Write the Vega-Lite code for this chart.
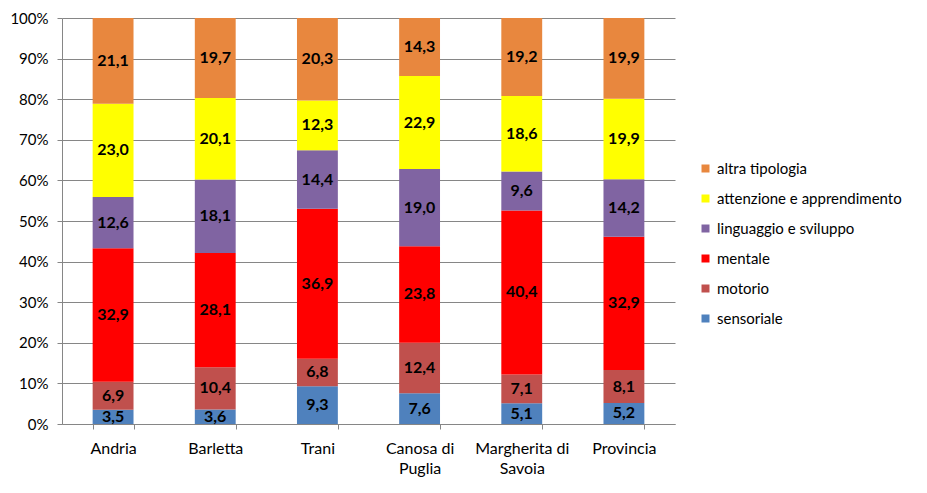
{
  "$schema": "https://vega.github.io/schema/vega-lite/v6.json",
  "width": 613,
  "height": 406,
  "autosize": "none",
  "padding": {"left": 62, "top": 18, "right": 252, "bottom": 69},
  "background": "white",
  "config": {
    "font": "Lato",
    "view": {"stroke": null},
    "locale": {"number": {"decimal": ",", "thousands": ".", "grouping": [3], "currency": ["€", ""]}}
  },
  "data": {
    "values": [
      {"citta": "Andria", "tipo": "sensoriale", "valore": 3.5},
      {"citta": "Andria", "tipo": "motorio", "valore": 6.9},
      {"citta": "Andria", "tipo": " mentale", "valore": 32.9},
      {"citta": "Andria", "tipo": "linguaggio e sviluppo", "valore": 12.6},
      {"citta": "Andria", "tipo": "attenzione e apprendimento", "valore": 23.0},
      {"citta": "Andria", "tipo": "altra tipologia", "valore": 21.1},
      {"citta": "Barletta", "tipo": "sensoriale", "valore": 3.6},
      {"citta": "Barletta", "tipo": "motorio", "valore": 10.4},
      {"citta": "Barletta", "tipo": " mentale", "valore": 28.1},
      {"citta": "Barletta", "tipo": "linguaggio e sviluppo", "valore": 18.1},
      {"citta": "Barletta", "tipo": "attenzione e apprendimento", "valore": 20.1},
      {"citta": "Barletta", "tipo": "altra tipologia", "valore": 19.7},
      {"citta": "Trani", "tipo": "sensoriale", "valore": 9.3},
      {"citta": "Trani", "tipo": "motorio", "valore": 6.8},
      {"citta": "Trani", "tipo": " mentale", "valore": 36.9},
      {"citta": "Trani", "tipo": "linguaggio e sviluppo", "valore": 14.4},
      {"citta": "Trani", "tipo": "attenzione e apprendimento", "valore": 12.3},
      {"citta": "Trani", "tipo": "altra tipologia", "valore": 20.3},
      {"citta": "Canosa di Puglia", "tipo": "sensoriale", "valore": 7.6},
      {"citta": "Canosa di Puglia", "tipo": "motorio", "valore": 12.4},
      {"citta": "Canosa di Puglia", "tipo": " mentale", "valore": 23.8},
      {"citta": "Canosa di Puglia", "tipo": "linguaggio e sviluppo", "valore": 19.0},
      {"citta": "Canosa di Puglia", "tipo": "attenzione e apprendimento", "valore": 22.9},
      {"citta": "Canosa di Puglia", "tipo": "altra tipologia", "valore": 14.3},
      {"citta": "Margherita di Savoia", "tipo": "sensoriale", "valore": 5.1},
      {"citta": "Margherita di Savoia", "tipo": "motorio", "valore": 7.1},
      {"citta": "Margherita di Savoia", "tipo": " mentale", "valore": 40.4},
      {"citta": "Margherita di Savoia", "tipo": "linguaggio e sviluppo", "valore": 9.6},
      {"citta": "Margherita di Savoia", "tipo": "attenzione e apprendimento", "valore": 18.6},
      {"citta": "Margherita di Savoia", "tipo": "altra tipologia", "valore": 19.2},
      {"citta": "Provincia", "tipo": "sensoriale", "valore": 5.2},
      {"citta": "Provincia", "tipo": "motorio", "valore": 8.1},
      {"citta": "Provincia", "tipo": " mentale", "valore": 32.9},
      {"citta": "Provincia", "tipo": "linguaggio e sviluppo", "valore": 14.2},
      {"citta": "Provincia", "tipo": "attenzione e apprendimento", "valore": 19.9},
      {"citta": "Provincia", "tipo": "altra tipologia", "valore": 19.9}
    ]
  },
  "transform": [
    {"calculate": "indexof(['sensoriale','motorio',' mentale','linguaggio e sviluppo','attenzione e apprendimento','altra tipologia'], datum.tipo)", "as": "ord"},
    {"stack": "valore", "groupby": ["citta"], "sort": [{"field": "ord", "order": "ascending"}], "offset": "normalize", "as": ["y0", "y1"]},
    {"calculate": "(datum.y0 + datum.y1) / 2", "as": "ym"}
  ],
  "encoding": {
    "x": {
      "field": "citta",
      "type": "nominal",
      "sort": ["Andria", "Barletta", "Trani", "Canosa di Puglia", "Margherita di Savoia", "Provincia"],
      "scale": {"paddingInner": 0.6, "paddingOuter": 0.3},
      "axis": {
        "title": null,
        "labelAngle": 0,
        "labelFontSize": 16,
        "labelColor": "#000000",
        "labelPadding": 11,
        "labelLineHeight": 20,
        "labelExpr": "datum.label == 'Canosa di Puglia' ? ['Canosa di', 'Puglia'] : datum.label == 'Margherita di Savoia' ? ['Margherita di', 'Savoia'] : datum.label",
        "tickBand": "extent",
        "tickSize": 5,
        "tickColor": "#868686",
        "domainColor": "#868686"
      }
    }
  },
  "layer": [
    {
      "mark": {"type": "bar"},
      "encoding": {
        "y": {
          "field": "y0",
          "type": "quantitative",
          "scale": {"domain": [0, 1]},
          "axis": {
            "title": null,
            "format": ".0%",
            "values": [0, 0.1, 0.2, 0.3, 0.4, 0.5, 0.6, 0.7, 0.8, 0.9, 1],
            "labelFontSize": 15,
            "labelColor": "#000000",
            "labelPadding": 9,
            "tickSize": 5,
            "tickColor": "#868686",
            "domainColor": "#868686",
            "gridColor": "#868686",
            "grid": true
          }
        },
        "y2": {"field": "y1"},
        "color": {
          "field": "tipo",
          "type": "nominal",
          "scale": {
            "domain": ["altra tipologia", "attenzione e apprendimento", "linguaggio e sviluppo", " mentale", "motorio", "sensoriale"],
            "range": ["#E8873E", "#FFFF00", "#8064A2", "#FF0000", "#C0504D", "#4F81BD"]
          },
          "legend": {
            "title": null,
            "orient": "none",
            "legendX": 636,
            "legendY": 143,
            "symbolType": "square",
            "symbolSize": 64,
            "symbolStrokeWidth": 0,
            "labelFontSize": 15,
            "labelLimit": 300,
            "labelColor": "#000000",
            "labelOffset": 4,
            "rowPadding": 14
          }
        }
      }
    },
    {
      "mark": {"type": "text", "fontWeight": "bold", "fontSize": 16, "color": "#000000"},
      "encoding": {
        "y": {"field": "ym", "type": "quantitative"},
        "text": {"field": "valore", "type": "quantitative", "format": ".1f"}
      }
    }
  ]
}
